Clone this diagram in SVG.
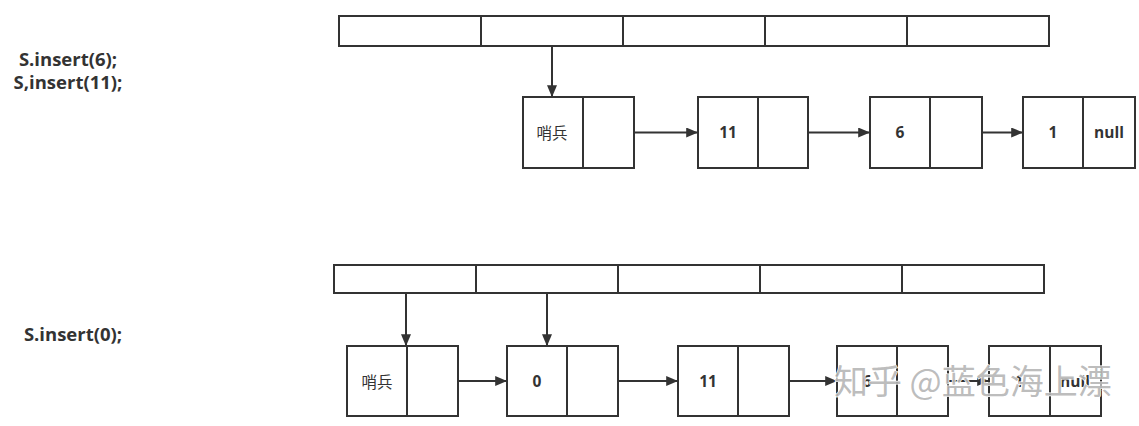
<svg xmlns="http://www.w3.org/2000/svg" width="1139" height="426" viewBox="0 0 1139 426">
<style>
.box{fill:#fff;stroke:#333;stroke-width:2}
.ln{fill:none;stroke:#333;stroke-width:2}
.arr{fill:none;stroke:#333;stroke-width:2;marker-end:url(#ah)}
.lbl{font-family:"Open Sans","Liberation Sans",sans-serif;font-weight:bold;font-size:18.5px;fill:#333;text-anchor:middle}
.t{font-family:"Open Sans","Liberation Sans","Noto Sans CJK SC",sans-serif;font-weight:bold;font-size:15.5px;fill:#333;text-anchor:middle;dominant-baseline:central}
.cn{font-family:"Noto Sans CJK SC",sans-serif;font-weight:normal;font-size:15.5px;fill:#333;text-anchor:middle;dominant-baseline:central}
.wm{font-family:"Noto Sans CJK SC",sans-serif;font-size:34px;fill:#b4b4b4;fill-opacity:0.9;stroke:#fff;stroke-width:1.2;paint-order:stroke;dominant-baseline:central}
</style>
<defs>
<marker id="ah" viewBox="0 0 10 10" refX="9" refY="5" markerWidth="12" markerHeight="10" markerUnits="userSpaceOnUse" orient="auto" preserveAspectRatio="none">
<path d="M0,0 L10,5 L0,10 z" fill="#333"/>
</marker>
</defs>
<rect width="1139" height="426" fill="#fff"/>
<g id="labels">
<text class="lbl" x="68" y="66">S.insert(6);</text>
<text class="lbl" x="68" y="89">S,insert(11);</text>
<text class="lbl" x="73" y="341">S.insert(0);</text>
</g>
<g id="array1">
<rect class="box" x="339" y="16" width="710" height="30"/>
<path class="ln" d="M481,16V46M623,16V46M765,16V46M907,16V46"/>
</g>
<g id="array2">
<rect class="box" x="334" y="265" width="710" height="28"/>
<path class="ln" d="M476,265V293M618,265V293M760,265V293M902,265V293"/>
</g>
<g id="n1a"><rect class="box" x="523" y="97" width="111" height="71"/><path class="ln" d="M583,97V168"/><text class="cn" x="552" y="132">哨兵</text></g>
<g id="n1b"><rect class="box" x="698" y="97" width="110" height="71"/><path class="ln" d="M758,97V168"/><text class="t" x="728" y="132">11</text></g>
<g id="n1c"><rect class="box" x="870" y="97" width="112" height="71"/><path class="ln" d="M930,97V168"/><text class="t" x="900" y="132">6</text></g>
<g id="n1d"><rect class="box" x="1023" y="97" width="112" height="71"/><path class="ln" d="M1083,97V168"/><text class="t" x="1053" y="132">1</text><text class="t" x="1109" y="132">null</text></g>
<g id="n2a"><rect class="box" x="347" y="346" width="111" height="70"/><path class="ln" d="M407,346V416"/><text class="cn" x="377" y="381">哨兵</text></g>
<g id="n2b"><rect class="box" x="507" y="346" width="111" height="70"/><path class="ln" d="M567,346V416"/><text class="t" x="537" y="381">0</text></g>
<g id="n2c"><rect class="box" x="678" y="346" width="111" height="70"/><path class="ln" d="M738,346V416"/><text class="t" x="708" y="381">11</text></g>
<g id="n2d"><rect class="box" x="837" y="346" width="111" height="70"/><path class="ln" d="M897,346V416"/><text class="t" x="867" y="381">6</text></g>
<g id="n2e"><rect class="box" x="989" y="346" width="112" height="70"/><path class="ln" d="M1050,346V416"/><text class="t" x="1019" y="381">1</text><text class="t" x="1075" y="381">null</text></g>
<g id="connectors">
<path class="arr" d="M552,46V96"/>
<path class="arr" d="M634,132.5H697"/>
<path class="arr" d="M808,132.5H869"/>
<path class="arr" d="M982,132.5H1022"/>
<path class="arr" d="M406,293V345"/>
<path class="arr" d="M547,293V345"/>
<path class="arr" d="M458,381H506"/>
<path class="arr" d="M618,381H677"/>
<path class="arr" d="M789,381H836"/>
<path class="arr" d="M948,381H988"/>
</g>
<text class="wm" x="834" y="379">知乎 @蓝色海上漂</text>
</svg>
